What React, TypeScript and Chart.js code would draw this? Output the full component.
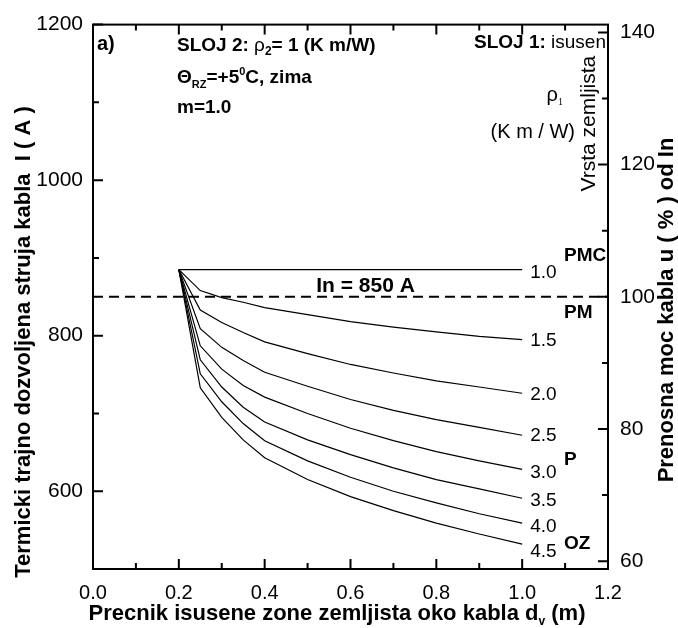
import React, { useEffect, useRef } from 'react';
import { Chart, registerables } from 'chart.js';

Chart.register(...registerables);

// Diameter of the dried zone d_v (m)
const xValues = [0.2, 0.25, 0.3, 0.35, 0.4, 0.5, 0.6, 0.7, 0.8, 0.9, 1.0];

// Permissible current I (A) for each dried-soil resistivity rho1 (K m/W)
const rho10 = [885, 885, 885, 885, 885, 885, 885, 885, 885, 885, 885];
const rho15 = [885, 858, 849, 843, 836, 827, 818, 811, 805, 799, 795];
const rho20 = [885, 833, 817, 804, 792, 777, 763, 752, 742, 734, 726];
const rho25 = [885, 809, 785, 768, 753, 735, 718, 704, 692, 682, 672];
const rho30 = [885, 787, 757, 736, 721, 700, 681, 665, 651, 639, 628];
const rho35 = [885, 769, 734, 708, 689, 666, 647, 630, 615, 603, 591];
const rho40 = [885, 751, 715, 687, 665, 639, 618, 600, 585, 571, 559];
const rho45 = [885, 733, 695, 666, 643, 615, 593, 575, 559, 545, 532];

const seriesList = [rho10, rho15, rho20, rho25, rho30, rho35, rho40, rho45];
const curveLabels = ['1.0', '1.5', '2.0', '2.5', '3.0', '3.5', '4.0', '4.5'];

const ratedCurrent = 850;
const soilLabels = ['PMC', 'PM', 'P', 'OZ'];
const soilLabelCurrents = [903, 830, 640, 533];

const xTicks = [0, 0.1, 0.2, 0.3, 0.4, 0.5, 0.6, 0.7, 0.8, 0.9, 1.0, 1.1, 1.2];
const yTicks = [500, 600, 700, 800, 900, 1000, 1100, 1200];
const y2Ticks = [60, 70, 80, 90, 100, 110, 120, 130, 140];

const FAM = '"Liberation Sans", Arial, Helvetica, sans-serif';
const F = (w: string, s: number, fam: string = FAM) => `${w} ${s}px ${fam}`;

type Seg = { t: string; font: string; dy?: number };

function drawRich(ctx: CanvasRenderingContext2D, segs: Seg[], x: number, y: number, align: 'left' | 'right' | 'center' = 'left') {
  let total = 0;
  const widths: number[] = [];
  for (const s of segs) {
    ctx.font = s.font;
    const w = ctx.measureText(s.t).width;
    widths.push(w);
    total += w;
  }
  let cx = align === 'right' ? x - total : align === 'center' ? x - total / 2 : x;
  ctx.textAlign = 'left';
  segs.forEach((s, i) => {
    ctx.font = s.font;
    ctx.fillText(s.t, cx, y + (s.dy || 0));
    cx += widths[i];
  });
}

const decorPlugin = {
  id: 'decor',
  afterDraw(chart: any) {
    const ctx: CanvasRenderingContext2D = chart.ctx;
    const { left, right, top, bottom } = chart.chartArea;
    const xs = chart.scales.x;
    const ys = chart.scales.y;
    const y2 = chart.scales.y2;
    ctx.save();
    ctx.fillStyle = '#000';
    ctx.strokeStyle = '#000';

    // curve labels
    ctx.textBaseline = 'middle';
    const nudges = [3, 1, 2, 1, 3, 3, 4, 8];
    seriesList.forEach((s, i) => {
      const px = xs.getPixelForValue(xValues[xValues.length - 1]) + 8;
      const py = ys.getPixelForValue(s[s.length - 1]) + nudges[i];
      ctx.font = F('normal', 19);
      ctx.textAlign = 'left';
      ctx.fillText(curveLabels[i], px, py);
    });

    // soil type labels
    soilLabels.forEach((t, i) => {
      ctx.font = F('bold', 19);
      ctx.textAlign = 'left';
      ctx.fillText(t, xs.getPixelForValue(1.1) - 1, ys.getPixelForValue(soilLabelCurrents[i]));
    });

    // In = 850 A
    ctx.textBaseline = 'alphabetic';
    ctx.font = F('bold', 21);
    ctx.textAlign = 'center';
    ctx.fillText('In = 850 A', xs.getPixelForValue(0.635), ys.getPixelForValue(ratedCurrent) - 5);

    // top-left info
    drawRich(ctx, [{ t: 'a)', font: F('bold', 20) }], left + 4, top + 25);
    const tx = left + 84;
    drawRich(ctx, [
      { t: 'SLOJ 2: ', font: F('bold', 19) },
      { t: 'ρ', font: F('normal', 19) },
      { t: '2', font: F('bold', 12), dy: 4 },
      { t: '= 1 (K m/W)', font: F('bold', 19) },
    ], tx, top + 26);
    drawRich(ctx, [
      { t: 'Θ', font: F('bold', 19) },
      { t: 'RZ', font: F('bold', 11), dy: 5 },
      { t: '=+5', font: F('bold', 19) },
      { t: '0', font: F('bold', 11), dy: -8 },
      { t: 'C, zima', font: F('bold', 19) },
    ], tx, top + 58);
    drawRich(ctx, [{ t: 'm=1.0', font: F('bold', 19) }], tx, top + 88);

    // top-right info
    drawRich(ctx, [
      { t: 'SLOJ 1:', font: F('bold', 19) },
      { t: ' isusen', font: F('normal', 19) },
    ], right - 2, top + 23, 'right');
    drawRich(ctx, [
      { t: 'ρ', font: F('normal', 20) },
      { t: '1', font: F('normal', 10, '"Liberation Serif", serif'), dy: 4 },
    ], right - 45, top + 76, 'right');
    drawRich(ctx, [{ t: '(K m / W)', font: F('normal', 20) }], right - 33, top + 113, 'right');

    // rotated "Vrsta zemljista"
    ctx.save();
    ctx.translate(right - 19, top + 99);
    ctx.rotate(-Math.PI / 2);
    ctx.textBaseline = 'middle';
    drawRich(ctx, [{ t: 'Vrsta zemljista', font: F('normal', 21) }], 0, 0, 'center');
    ctx.restore();

    // axis titles
    ctx.save();
    ctx.translate(24, 342);
    ctx.rotate(-Math.PI / 2);
    ctx.textBaseline = 'middle';
    drawRich(ctx, [{ t: 'Termicki trajno dozvoljena struja kabla  I ( A )', font: F('bold', 22) }], 0, 0, 'center');
    ctx.restore();

    ctx.save();
    ctx.translate(667, 310);
    ctx.rotate(-Math.PI / 2);
    ctx.textBaseline = 'middle';
    drawRich(ctx, [{ t: 'Prenosna moc kabla u ( % ) od In', font: F('bold', 22) }], 0, 0, 'center');
    ctx.restore();

    ctx.textBaseline = 'alphabetic';
    drawRich(ctx, [
      { t: 'Precnik isusene zone zemljista oko kabla d', font: F('bold', 22) },
      { t: 'v', font: F('bold', 12), dy: 5 },
      { t: ' (m)', font: F('bold', 22) },
    ], 337, 620, 'center');

    // frame and inward ticks
    ctx.lineWidth = 2;
    ctx.strokeRect(left, top, right - left, bottom - top);
    ctx.beginPath();
    xTicks.forEach((v, i) => {
      const px = xs.getPixelForValue(v);
      const len = i % 2 === 0 ? 10 : 6;
      ctx.moveTo(px, bottom);
      ctx.lineTo(px, bottom - len);
      ctx.moveTo(px, top);
      ctx.lineTo(px, top + len);
    });
    yTicks.forEach((v) => {
      const py = ys.getPixelForValue(v);
      const len = v % 200 === 0 ? 10 : 6;
      ctx.moveTo(left, py);
      ctx.lineTo(left + len, py);
    });
    y2Ticks.forEach((v) => {
      const py = y2.getPixelForValue(v);
      const len = v % 20 === 0 ? 10 : 6;
      ctx.moveTo(right, py);
      ctx.lineTo(right - len, py);
    });
    ctx.stroke();
    ctx.restore();
  },
};

export default function App() {
  const ref = useRef<HTMLCanvasElement>(null);
  useEffect(() => {
    if (!ref.current) return;
    const datasets: any[] = seriesList.map((s, i) => ({
      label: curveLabels[i],
      data: xValues.map((x, j) => ({ x, y: s[j] })),
      borderColor: '#000',
      borderWidth: 1.2,
      pointRadius: 0,
      fill: false,
      tension: 0,
      yAxisID: 'y',
    }));
    datasets.push({
      label: 'In',
      data: [{ x: 0, y: ratedCurrent }, { x: 1.2, y: ratedCurrent }],
      borderColor: '#000',
      borderWidth: 2,
      borderDash: [10, 6],
      pointRadius: 0,
      fill: false,
      yAxisID: 'y',
    });
    const tickFont = { family: FAM, size: 21 };
    const chart = new Chart(ref.current, {
      type: 'line',
      data: { datasets },
      options: {
        animation: false,
        responsive: false,
        devicePixelRatio: 1,
        layout: { padding: { top: 22, left: 0, right: 0, bottom: 0 } },
        plugins: { legend: { display: false }, title: { display: false }, tooltip: { enabled: false } },
        scales: {
          x: {
            type: 'linear',
            position: 'bottom',
            min: 0,
            max: 1.2,
            grid: { display: false, drawTicks: false },
            border: { display: false },
            afterBuildTicks: (sc: any) => { sc.ticks = xTicks.map((v) => ({ value: v })); },
            afterFit: (sc: any) => { sc.height = 59; },
            ticks: {
              autoSkip: false,
              maxRotation: 0,
              padding: 12,
              color: '#000',
              font: { family: FAM, size: 20 },
              callback: (v: any) => (Math.round(Number(v) * 10) % 2 === 0 ? Number(v).toFixed(1) : ''),
            },
          },
          y: {
            type: 'linear',
            position: 'left',
            min: 500,
            max: 1200,
            grid: { display: false, drawTicks: false },
            border: { display: false },
            afterBuildTicks: (sc: any) => { sc.ticks = yTicks.map((v) => ({ value: v })); },
            afterFit: (sc: any) => { sc.width = 93; },
            ticks: {
              autoSkip: false,
              padding: 10,
              color: '#000',
              font: tickFont,
              callback: (v: any) => (Number(v) % 200 === 0 ? String(v) : ''),
            },
          },
          y2: {
            type: 'linear',
            position: 'right',
            min: 500 / 8.5,
            max: 1200 / 8.5,
            grid: { display: false, drawTicks: false },
            border: { display: false },
            afterBuildTicks: (sc: any) => { sc.ticks = y2Ticks.map((v) => ({ value: v })); },
            afterFit: (sc: any) => { sc.width = 70; },
            ticks: {
              autoSkip: false,
              padding: 12,
              color: '#000',
              font: tickFont,
              callback: (v: any) => (Number(v) % 20 === 0 ? String(v) : ''),
            },
          },
        },
      },
      plugins: [decorPlugin],
    } as any);
    return () => chart.destroy();
  }, []);
  return (
    <div style={{ position: 'fixed', left: 0, top: 0, width: 678, height: 628, background: '#fff' }}>
      <canvas ref={ref} width={678} height={628} style={{ width: 678, height: 628 }} />
    </div>
  );
}
